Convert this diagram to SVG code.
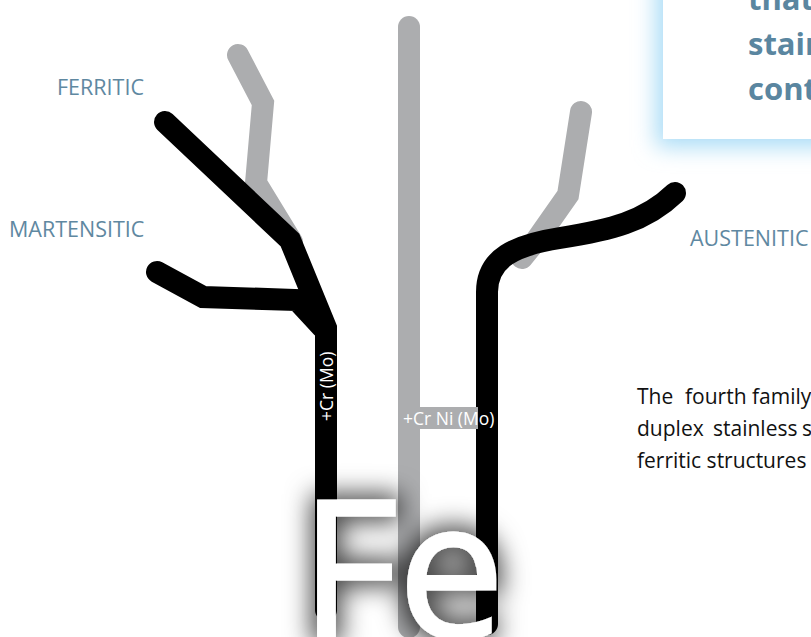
<svg xmlns="http://www.w3.org/2000/svg" width="811" height="637" viewBox="0 0 811 637">
  <defs>
    <style>
      .gray { fill: none; stroke: #acadaf; stroke-width: 22; stroke-linecap: round; stroke-linejoin: miter; }
      .black { fill: none; stroke: #000; stroke-width: 22; stroke-linecap: round; stroke-linejoin: miter; }
      .label { font-family: "Open Sans", "Liberation Sans", sans-serif; font-size: 21.5px; fill: #5f88a1; }
      .tag { font-family: "Open Sans", "Liberation Sans", sans-serif; font-size: 17.5px; fill: #fff; }
      .body { font-family: "Open Sans", "Liberation Sans", sans-serif; font-size: 21px; fill: #111; }
      .head { font-family: "Open Sans", "Liberation Sans", sans-serif; font-size: 31px; font-weight: 700; fill: #5a86a0; }
      .fe { font-family: "Open Sans", "Liberation Sans", sans-serif; font-size: 190px; fill: #fff; stroke: #fff; stroke-width: 3; }
    </style>
    <filter id="glow" x="-30%" y="-30%" width="160%" height="160%">
      <feGaussianBlur stdDeviation="11"/>
    </filter>
    <filter id="feShadow" x="-40%" y="-40%" width="180%" height="180%">
      <feMorphology in="SourceAlpha" operator="dilate" radius="5" result="d"/>
      <feGaussianBlur in="d" stdDeviation="13" result="b"/>
      <feFlood flood-color="#000" flood-opacity="0.75"/>
      <feComposite in2="b" operator="in" result="s"/>
      <feMerge>
        <feMergeNode in="s"/>
        <feMergeNode in="SourceGraphic"/>
      </feMerge>
    </filter>
  </defs>
  <rect width="811" height="637" fill="#fff"/>

  <!-- top-right callout box -->
  <g id="callout">
    <rect x="656" y="-30" width="190" height="177" fill="#a9dcf6" filter="url(#glow)"/>
    <rect x="663" y="-20" width="160" height="159" fill="#fff"/>
    <text class="head" x="748" y="10">that</text>
    <text class="head" x="748" y="55">stain</text>
    <text class="head" x="748" y="100">cont</text>
  </g>

  <g id="connectors">
    <!-- gray (background) branches -->
    <path class="gray" d="M409,27 L409,627"/>
    <path class="gray" d="M238,55 L263,103 L256,183 L292,242"/>
    <path class="gray" d="M581,112 L568,195 L535,242 L522,258"/>
    <!-- black branches -->
    <path class="black" d="M165,122 L290,240 L326,328 L326,610"/>
    <path class="black" d="M157,272 L203,297 L297,300 L322,327"/>
    <path class="black" d="M675,193 C645,222 610,230 560,238 C515,245 487,258 487,292 L487,624"/>
  </g>

  <g id="tag-cr-mo">
    <text class="tag" transform="translate(333,421) rotate(-90)">+Cr (Mo)</text>
  </g>
  <g id="tag-cr-ni-mo">
    <rect x="398" y="407" width="80" height="22" fill="#acadaf"/>
    <text class="tag" x="403" y="425">+Cr Ni (Mo)</text>
  </g>

  <g id="ferritic">
    <text class="label" x="57" y="95">FERRITIC</text>
  </g>
  <g id="martensitic">
    <text class="label" x="9" y="237">MARTENSITIC</text>
  </g>
  <g id="austenitic">
    <text class="label" x="690" y="246">AUSTENITIC</text>
  </g>

  <g id="fe">
    <text class="fe" x="300" y="637" filter="url(#feShadow)">Fe</text>
  </g>

  <g id="body-text">
    <text class="body" y="404"><tspan x="637">The</tspan><tspan x="685">fourth</tspan><tspan x="752">family</tspan></text>
    <text class="body" y="436"><tspan x="637">duplex</tspan><tspan x="713">stainless</tspan><tspan x="802">s</tspan></text>
    <text class="body" x="637" y="468">ferritic structures</text>
  </g>
</svg>
